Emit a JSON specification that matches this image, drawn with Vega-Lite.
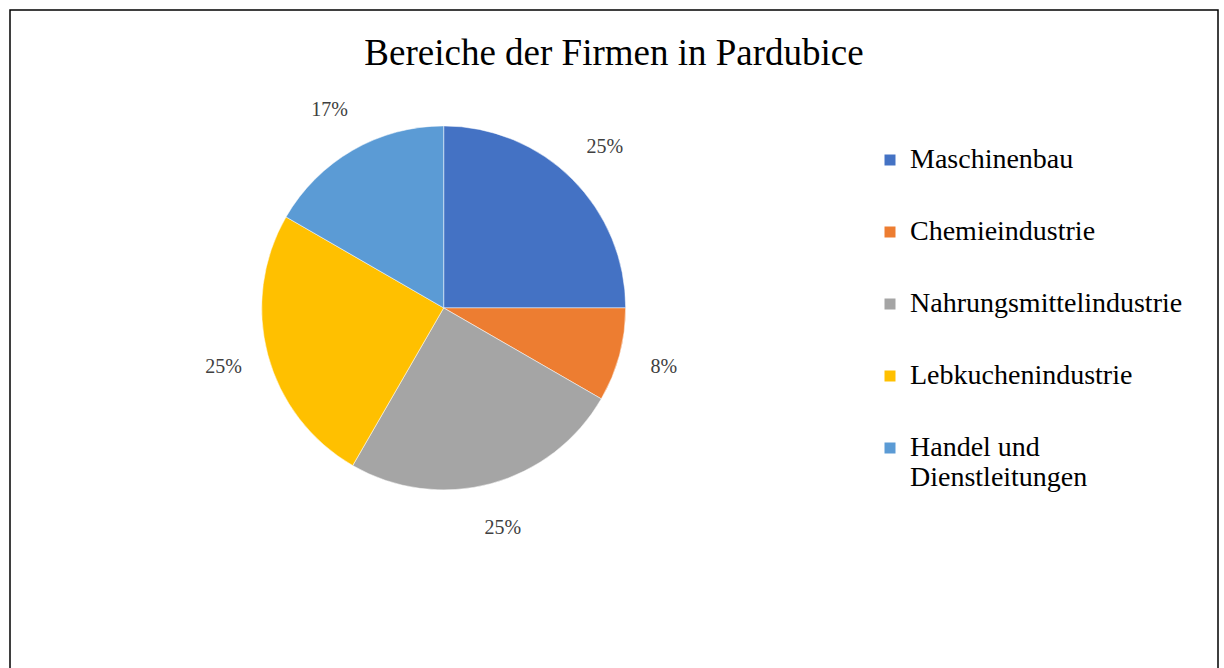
{
  "$schema": "https://vega.github.io/schema/vega-lite/v6.json",
  "width": 1224,
  "height": 668,
  "autosize": {"type": "fit", "contains": "padding"},
  "padding": {"left": 10, "top": 10, "right": 6, "bottom": -4},
  "background": "white",
  "config": {
    "view": {"stroke": "black", "strokeWidth": 1.5},
    "font": "Liberation Serif",
    "legend": {"labelFont": "Liberation Serif"}
  },
  "title": {
    "text": "Bereiche der Firmen in Pardubice",
    "font": "Liberation Serif",
    "fontSize": 37,
    "fontWeight": "normal",
    "color": "black",
    "anchor": "middle",
    "frame": "group",
    "offset": -63
  },
  "data": {
    "values": [
      {"bereich": "Maschinenbau", "anteil": 0.25, "ord": 1},
      {"bereich": "Chemieindustrie", "anteil": 0.0833, "ord": 2},
      {"bereich": "Nahrungsmittelindustrie", "anteil": 0.25, "ord": 3},
      {"bereich": "Lebkuchenindustrie", "anteil": 0.25, "ord": 4},
      {"bereich": "Handel und Dienstleitungen", "anteil": 0.1667, "ord": 5}
    ]
  },
  "encoding": {
    "theta": {"field": "anteil", "type": "quantitative", "stack": true},
    "order": {"field": "ord", "type": "quantitative"},
    "x": {"datum": 0, "type": "quantitative", "scale": {"domain": [-0.359, 0.641]}, "axis": null},
    "y": {"datum": 0, "type": "quantitative", "scale": {"domain": [-0.55, 0.45]}, "axis": null}
  },
  "layer": [
    {
      "mark": {"type": "arc", "outerRadius": 182, "stroke": "white", "strokeWidth": 0.5},
      "encoding": {
        "color": {
          "field": "bereich",
          "type": "nominal",
          "sort": ["Maschinenbau", "Chemieindustrie", "Nahrungsmittelindustrie", "Lebkuchenindustrie", "Handel und Dienstleitungen"],
          "scale": {
            "domain": ["Maschinenbau", "Chemieindustrie", "Nahrungsmittelindustrie", "Lebkuchenindustrie", "Handel und Dienstleitungen"],
            "range": ["#4472C4", "#ED7D31", "#A5A5A5", "#FFC000", "#5B9BD5"]
          },
          "legend": {
            "title": null,
            "orient": "none",
            "legendX": 866,
            "legendY": 136,
            "symbolType": "square",
            "symbolSize": 121,
            "symbolStrokeWidth": 0,
            "labelFont": "Liberation Serif",
            "labelFontSize": 28,
            "labelColor": "black",
            "labelLimit": 400,
            "labelOffset": 6,
            "rowPadding": 44,
            "labelExpr": "datum.label == 'Handel und Dienstleitungen' ? ['Handel und', 'Dienstleitungen'] : datum.label"
          }
        }
      }
    },
    {
      "mark": {"type": "text", "radius": 228, "font": "Liberation Serif", "fontSize": 20, "color": "#404040"},
      "encoding": {
        "text": {"field": "anteil", "type": "quantitative", "format": ".0%"}
      }
    }
  ]
}
